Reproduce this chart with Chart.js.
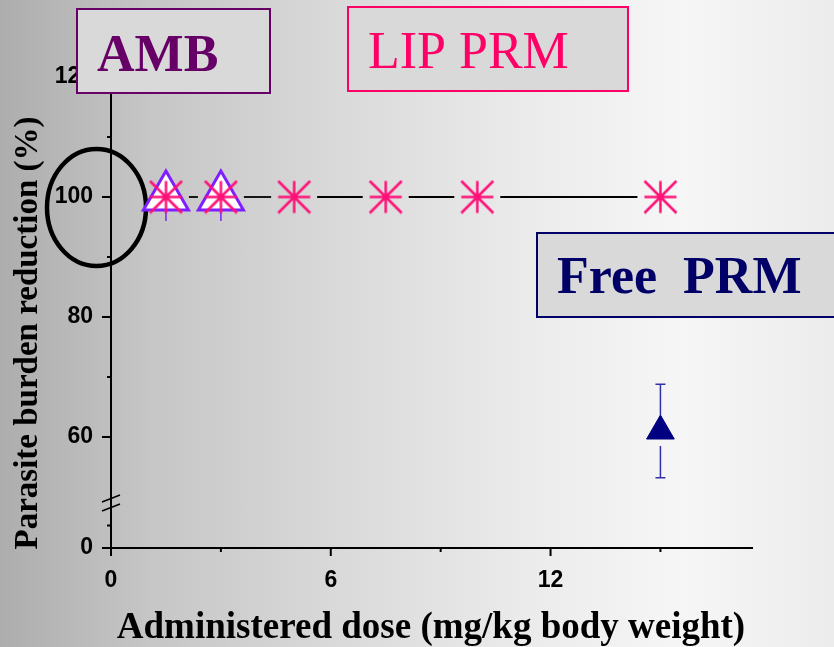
<!DOCTYPE html>
<html>
<head>
<meta charset="utf-8">
<script src="https://cdn.jsdelivr.net/npm/chart.js@4.4.0/dist/chart.umd.min.js"></script>
<style>
  html, body { margin: 0; padding: 0; }
  body {
    width: 834px; height: 647px; overflow: hidden;
    background: linear-gradient(to right, #adadad 0%, #c6c6c6 18%, #d9d9d9 40%, #ebebeb 63%, #f6f6f6 82%, #ececec 100%);
  }
  #wrap { position: relative; width: 834px; height: 647px; }
</style>
</head>
<body>
<div id="wrap"><canvas id="chart" width="834" height="647"></canvas></div>
<script>
// ─── Data ────────────────────────────────────────────────────────────────────
const lipDose       = [1.5, 3, 5, 7.5, 10, 15];
const lipReduction  = [100, 100, 100, 100, 100, 100];
const ambDose       = [1.5, 3];
const ambReduction  = [100, 100];
const ambError      = [4, 4];
const freeDose      = [15];
const freeReduction = [61];
const freeError     = [7.8];

const xTicks       = [0, 3, 6, 9, 12, 15];
const xLabels      = ['0', '', '6', '', '12', ''];
const yTicksUpper  = [60, 70, 80, 90, 100, 110, 120];
const yLabelsUpper = ['60', '', '80', '', '100', '', '120'];
const yTicksLower  = [0, 5];
const yLabelsLower = ['0', ''];

// ─── Styling helpers ─────────────────────────────────────────────────────────
const PINK   = '#ff1177';
const VIOLET = '#7f1fff';
const NAVY   = '#000080';
const SERIF  = "'Liberation Serif', 'Times New Roman', serif";
const SANS   = "'Liberation Sans', Arial, sans-serif";

function makeAsterisk(size, color, lw) {
  const c = document.createElement('canvas');
  c.width = c.height = size;
  const g = c.getContext('2d');
  const h = size / 2, a = h - 1.5;
  g.strokeStyle = color;
  g.lineWidth = lw;
  g.beginPath();
  g.moveTo(h - a, h); g.lineTo(h + a, h);
  g.moveTo(h, h - a); g.lineTo(h, h + a);
  g.moveTo(h - a, h - a); g.lineTo(h + a, h + a);
  g.moveTo(h - a, h + a); g.lineTo(h + a, h - a);
  g.stroke();
  return c;
}

const labelMap = (vals, labels) => Object.fromEntries(vals.map((v, i) => [v, labels[i]]));
const xLabelOf  = labelMap(xTicks, xLabels);
const yuLabelOf = labelMap(yTicksUpper, yLabelsUpper);
const ylLabelOf = labelMap(yTicksLower, yLabelsLower);

const tickFont = { family: SANS, size: 23, weight: 'bold' };

// ─── Decorations: ticks, line, error bars, boxes, titles ─────────────────────
const decor = {
  id: 'decor',
  beforeDatasetsDraw(chart) {
    const ctx = chart.ctx;
    const { x, y, y2 } = chart.scales;
    ctx.save();
    ctx.strokeStyle = '#000';
    ctx.lineWidth = 2;

    // x ticks (major 8px, minor 4px, outward)
    xTicks.forEach((v, i) => {
      const px = x.getPixelForValue(v);
      const len = xLabels[i] ? 8 : 4;
      ctx.beginPath(); ctx.moveTo(px, x.top); ctx.lineTo(px, x.top + len); ctx.stroke();
    });
    // y ticks
    const ax = y.right;
    yTicksUpper.forEach((v, i) => {
      const py = y.getPixelForValue(v);
      const len = yLabelsUpper[i] ? 9 : 4;
      ctx.beginPath(); ctx.moveTo(ax - len, py); ctx.lineTo(ax, py); ctx.stroke();
    });
    yTicksLower.forEach((v, i) => {
      const py = y2.getPixelForValue(v);
      const len = yLabelsLower[i] ? 9 : 4;
      ctx.beginPath(); ctx.moveTo(ax - len, py); ctx.lineTo(ax, py); ctx.stroke();
    });

    // axis break marks
    const by = y.bottom;
    ctx.lineWidth = 1.5;
    [-4.5, 4.5].forEach(d => {
      ctx.beginPath(); ctx.moveTo(ax - 9, by + d + 3.5); ctx.lineTo(ax + 9, by + d - 3.5); ctx.stroke();
    });

    // highlight ellipse
    ctx.lineWidth = 4.5;
    ctx.beginPath();
    ctx.ellipse(96.5, 207.5, 49.5, 58.5, 0, 0, Math.PI * 2);
    ctx.stroke();

    // LIP PRM connecting line with gaps round the markers
    const lip = chart.getDatasetMeta(0).data;
    const gap = 23;
    ctx.lineWidth = 1.8;
    for (let i = 0; i < lip.length - 1; i++) {
      const p0 = lip[i], p1 = lip[i + 1];
      const dx = p1.x - p0.x, dy = p1.y - p0.y, d = Math.hypot(dx, dy);
      if (d <= gap * 2) continue;
      const ux = dx / d, uy = dy / d;
      ctx.beginPath();
      ctx.moveTo(p0.x + ux * gap, p0.y + uy * gap);
      ctx.lineTo(p1.x - ux * gap, p1.y - uy * gap);
      ctx.stroke();
    }

    // AMB error bars (drawn through, triangle covers the middle)
    ctx.strokeStyle = VIOLET;
    ctx.lineWidth = 1.5;
    chart.getDatasetMeta(1).data.forEach((p, i) => {
      const v = ambReduction[i], e = ambError[i];
      ctx.beginPath();
      ctx.moveTo(p.x, y.getPixelForValue(v + e));
      ctx.lineTo(p.x, y.getPixelForValue(v - e));
      ctx.stroke();
    });

    // Free PRM error bars with caps and a gap round the marker
    ctx.strokeStyle = '#3030a8';
    ctx.lineWidth = 1.5;
    chart.getDatasetMeta(2).data.forEach((p, i) => {
      const v = freeReduction[i], e = freeError[i];
      const top = y.getPixelForValue(v + e), bot = y.getPixelForValue(v - e);
      ctx.beginPath();
      ctx.moveTo(p.x, p.y - 16); ctx.lineTo(p.x, top);
      ctx.moveTo(p.x - 5, top); ctx.lineTo(p.x + 5, top);
      ctx.moveTo(p.x, p.y + 15); ctx.lineTo(p.x, bot);
      ctx.moveTo(p.x - 5, bot); ctx.lineTo(p.x + 5, bot);
      ctx.stroke();
    });
    ctx.restore();
  },
  afterDraw(chart) {
    const ctx = chart.ctx;
    ctx.save();

    // axis titles
    ctx.fillStyle = '#000';
    ctx.font = `bold 37px ${SERIF}`;
    ctx.textAlign = 'center';
    ctx.textBaseline = 'alphabetic';
    ctx.fillText('Administered dose (mg/kg body weight)', 431, 638);

    ctx.save();
    ctx.translate(28, 333);
    ctx.rotate(-Math.PI / 2);
    ctx.font = `bold 33px ${SERIF}`;
    ctx.textBaseline = 'middle';
    ctx.fillText('Parasite burden reduction (%)', 0, 0);
    ctx.restore();

    // label boxes
    const boxes = [
      { text: 'AMB',       x: 77,  y: 9,   w: 193, h: 84, tx: 97,  ty: 71,  color: '#660066', weight: 'bold' },
      { text: 'LIP PRM',   x: 348, y: 7,   w: 280, h: 84, tx: 368, ty: 68,  color: '#ff0066', weight: 'normal' },
      { text: 'Free  PRM', x: 537, y: 233, w: 300, h: 84, tx: 557, ty: 293, color: '#000066', weight: 'bold' },
    ];
    boxes.forEach(b => {
      ctx.fillStyle = '#d9d9d9';
      ctx.fillRect(b.x, b.y, b.w, b.h);
      ctx.strokeStyle = b.color;
      ctx.lineWidth = 2;
      ctx.strokeRect(b.x, b.y, b.w, b.h);
      ctx.fillStyle = b.color;
      ctx.font = `${b.weight} 52px ${SERIF}`;
      ctx.textAlign = 'left';
      ctx.textBaseline = 'alphabetic';
      ctx.fillText(b.text, b.tx, b.ty);
    });
    ctx.restore();
  }
};

// ─── Chart ───────────────────────────────────────────────────────────────────
const ctx = document.getElementById('chart').getContext('2d');
new Chart(ctx, {
  type: 'scatter',
  data: {
    datasets: [
      {
        label: 'LIP PRM',
        data: lipDose.map((d, i) => ({ x: d, y: lipReduction[i] })),
        pointStyle: makeAsterisk(35, PINK, 2.5),
        pointRadius: 17,
        showLine: false,
      },
      {
        label: 'AMB',
        data: ambDose.map((d, i) => ({ x: d, y: ambReduction[i] })),
        pointStyle: 'triangle',
        pointRadius: 26,
        pointBackgroundColor: '#ffffff',
        pointBorderColor: VIOLET,
        pointBorderWidth: 3,
        showLine: false,
      },
      {
        label: 'Free PRM',
        data: freeDose.map((d, i) => ({ x: d, y: freeReduction[i] })),
        pointStyle: 'triangle',
        pointRadius: 16,
        pointBackgroundColor: NAVY,
        pointBorderColor: NAVY,
        pointBorderWidth: 1,
        showLine: false,
      },
    ],
  },
  options: {
    responsive: false,
    animation: false,
    events: [],
    layout: { padding: { left: 0, right: 82, top: 77, bottom: 0 } },
    plugins: { legend: { display: false }, tooltip: { enabled: false } },
    scales: {
      x: {
        type: 'linear', min: 0, max: 17.5,
        afterBuildTicks: s => { s.ticks = xTicks.map(v => ({ value: v })); },
        afterFit: s => { s.height = 99; },
        grid: { display: false },
        border: { color: '#000', width: 2 },
        ticks: { autoSkip: false, maxRotation: 0, padding: 11, color: '#000', font: tickFont,
                 callback: v => xLabelOf[v] ?? '' },
      },
      y: {
        type: 'linear', position: 'left', stack: 'dose', stackWeight: 426, weight: 2,
        min: 49, max: 120,
        afterBuildTicks: s => { s.ticks = yTicksUpper.map(v => ({ value: v })); },
        afterFit: s => { s.width = 111; },
        grid: { display: false },
        border: { color: '#000', width: 2 },
        ticks: { autoSkip: false, padding: 10, color: '#000', font: tickFont,
                 callback: v => yuLabelOf[v] ?? '' },
      },
      y2: {
        type: 'linear', position: 'left', stack: 'dose', stackWeight: 45, weight: 1,
        min: 0, max: 10,
        afterBuildTicks: s => { s.ticks = yTicksLower.map(v => ({ value: v })); },
        afterFit: s => { s.width = 111; },
        grid: { display: false },
        border: { color: '#000', width: 2 },
        ticks: { autoSkip: false, padding: 10, color: '#000', font: tickFont,
                 callback: v => ylLabelOf[v] ?? '' },
      },
    },
  },
  plugins: [decor],
});
</script>
</body>
</html>
